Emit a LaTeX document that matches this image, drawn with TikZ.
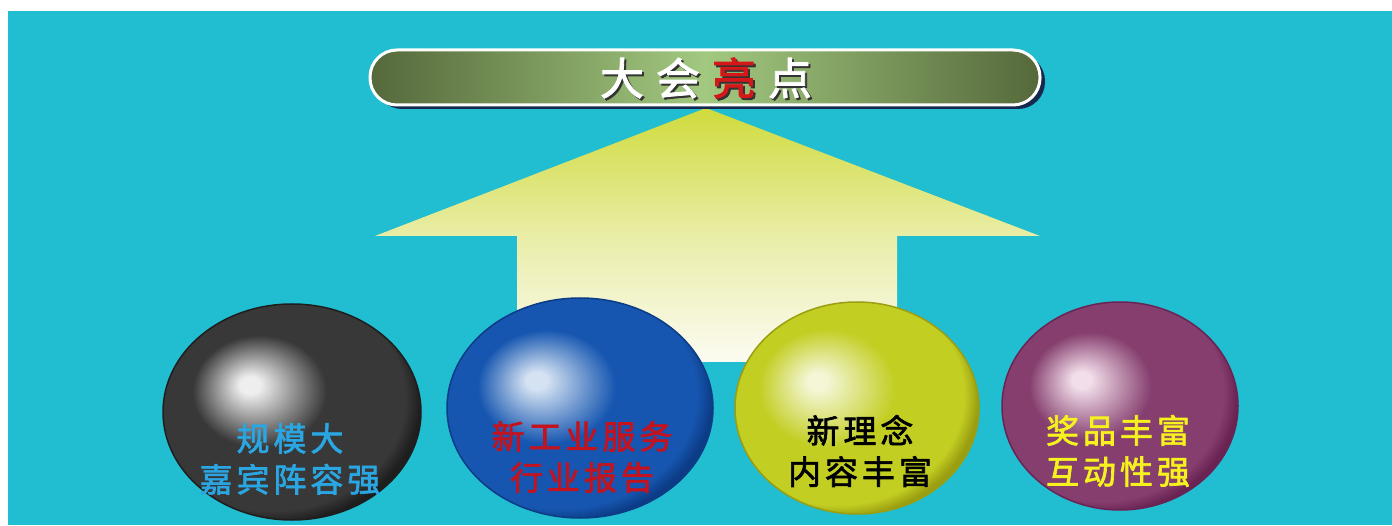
\documentclass[tikz,border=0pt]{standalone}
\usepackage{fontspec}
\newfontfamily\cjk[FakeBold=2,LetterSpace=12]{Noto Sans CJK SC}
\newfontfamily\cjkt[FakeBold=2]{Noto Sans CJK SC}
\definecolor{bgteal}{HTML}{21BDD0}
\definecolor{arrtop}{HTML}{CFDB3C}
\definecolor{arrmid}{HTML}{E9EDA6}
\definecolor{arrbot}{HTML}{FCFBF2}
\definecolor{bardark}{HTML}{55683A}
\definecolor{barlight}{HTML}{A2C980}
\definecolor{barshadow}{HTML}{16284E}
\definecolor{titlered}{HTML}{D4181A}
\definecolor{txtblue}{HTML}{2AA6E2}
\definecolor{txtred}{HTML}{C4121E}
\definecolor{txtyellow}{HTML}{F6F21E}
% sphere colours
\definecolor{gHl}{HTML}{EEEEEE}\definecolor{gBase}{HTML}{383838}\definecolor{gEdge}{HTML}{1E1E1E}
\definecolor{bHl}{HTML}{D4E2F2}\definecolor{bBase}{HTML}{1656B0}\definecolor{bEdge}{HTML}{0C3C86}
\definecolor{yHl}{HTML}{F4F6D6}\definecolor{yBase}{HTML}{C2CE22}\definecolor{yEdge}{HTML}{9A9E10}
\definecolor{pHl}{HTML}{F2DEEA}\definecolor{pBase}{HTML}{853E6E}\definecolor{pEdge}{HTML}{6A2454}
\pgfdeclareradialshading{sphg}{\pgfpoint{-8.5bp}{6.5bp}}{color(0bp)=(gHl); color(2bp)=(gHl); color(13bp)=(gBase); color(26bp)=(gBase); color(28.5bp)=(gEdge); color(50bp)=(gEdge)}
\pgfdeclareradialshading{sphb}{\pgfpoint{-8.5bp}{6.5bp}}{color(0bp)=(bHl); color(2bp)=(bHl); color(13bp)=(bBase); color(26bp)=(bBase); color(28.5bp)=(bEdge); color(50bp)=(bEdge)}
\pgfdeclareradialshading{sphy}{\pgfpoint{-8.5bp}{6.5bp}}{color(0bp)=(yHl); color(2bp)=(yHl); color(14bp)=(yBase); color(26bp)=(yBase); color(28.5bp)=(yEdge); color(50bp)=(yEdge)}
\pgfdeclareradialshading{sphp}{\pgfpoint{-8.5bp}{6.5bp}}{color(0bp)=(pHl); color(2bp)=(pHl); color(13bp)=(pBase); color(26bp)=(pBase); color(28.5bp)=(pEdge); color(50bp)=(pEdge)}
\tikzset{
  spheretext/.style={align=center, font=\cjk\fontsize{33}{41}\selectfont},
}
\begin{document}
\begin{tikzpicture}[x=1pt,y=1pt]
\useasboundingbox (0,0) rectangle (1392,525);
\fill[bgteal] (8,0) rectangle (1392,514);
% big arrow
\shade[top color=arrtop, bottom color=arrbot, middle color=arrmid]
  (706,417) -- (1040,289) -- (897,289) -- (897,163) -- (517,163) -- (517,289) -- (375,289) -- cycle;
% title bar
\fill[barshadow, rounded corners=27pt] (375,416) rectangle (1045,471);
\shade[left color=bardark, right color=bardark, middle color=barlight, rounded corners=27pt, draw=white, line width=3pt]
  (370,420) rectangle (1040,475);
\node[text=black!80, font=\cjkt\fontsize{44}{50}\selectfont] at (708,445) {大\hspace{12pt}会\hspace{12pt}亮\hspace{12pt}点};
\node (title) [text=white, font=\cjkt\fontsize{44}{50}\selectfont] at (706,447) {大\hspace{12pt}会\hspace{12pt}\textcolor{titlered}{亮}\hspace{12pt}点};
% spheres
\path[shading=sphg, draw=gEdge, line width=1.5pt] (292,113) ellipse [x radius=129, y radius=108];
\path[shading=sphb, draw=bEdge, line width=1.5pt] (580,117) ellipse [x radius=133, y radius=110];
\path[shading=sphy, draw=yEdge, line width=1.5pt] (857,117) ellipse [x radius=122, y radius=106];
\path[shading=sphp, draw=pEdge, line width=1.5pt] (1120,119) ellipse [x radius=118, y radius=104];
\node (s1) [spheretext, text=txtblue] at (290,66) {规模大\\嘉宾阵容强};
\node (s2) [spheretext, text=txtred] at (582,68) {新工业服务\\行业报告};
\node (s3) [spheretext, text=black] at (860,74) {新理念\\内容丰富};
\node (s4) [spheretext, text=txtyellow] at (1118,74) {奖品丰富\\互动性强};
\end{tikzpicture}
\end{document}
